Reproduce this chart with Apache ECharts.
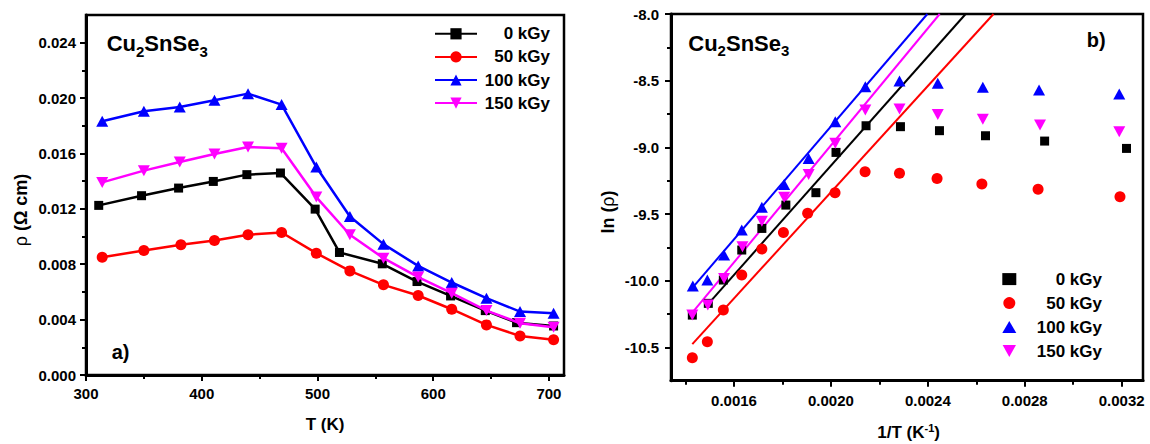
<!DOCTYPE html>
<html><head><meta charset="utf-8">
<script src="https://cdn.jsdelivr.net/npm/echarts@6/dist/echarts.min.js"></script>
<style>html,body{margin:0;padding:0;background:#fff}#c{width:1150px;height:444px}</style>
</head><body><div id="c"></div>
<script>
// ---------- data ----------
const seriesNames = ['0 kGy', '50 kGy', '100 kGy', '150 kGy'];
const colors = ['#000000', '#ff0000', '#0000ff', '#ff00ff'];

// panel a) : T (K) vs rho (Ohm cm)
const T_0   = [311, 348, 380, 410, 439, 468, 498, 519, 556, 586, 615, 645, 672, 704];
const rho_0 = [0.01225, 0.01295, 0.01350, 0.01398, 0.01447, 0.01459, 0.01198, 0.00885, 0.00803, 0.00675, 0.00571, 0.00465, 0.00378, 0.00354];
const T_50   = [314, 350, 382, 411, 440, 469, 499, 528, 557, 587, 616, 646, 675, 704];
const rho_50 = [0.00851, 0.00899, 0.00940, 0.00972, 0.01013, 0.01029, 0.00880, 0.00752, 0.00651, 0.00574, 0.00475, 0.00362, 0.00282, 0.00255];
const T_100   = [314, 350, 381, 411, 440, 469, 499, 528, 557, 587, 616, 646, 675, 704];
const rho_100 = [0.01832, 0.01905, 0.01936, 0.01984, 0.02032, 0.01953, 0.01502, 0.01145, 0.00945, 0.00788, 0.00668, 0.00555, 0.00458, 0.00446];
const T_150   = [314, 350, 381, 411, 440, 469, 499, 528, 557, 587, 616, 646, 675, 704];
const rho_150 = [0.01391, 0.01476, 0.01538, 0.01596, 0.01647, 0.01638, 0.01285, 0.01013, 0.00844, 0.00707, 0.00591, 0.00465, 0.00374, 0.00345];

// panel b) : 1/T (1/K) vs ln(rho)
const invT_0 = [0.001428, 0.001494, 0.001556, 0.001632, 0.001715, 0.001814, 0.001938, 0.002021, 0.002145, 0.002287, 0.002448, 0.002638, 0.002882, 0.003220];
const lnr_0  = [-10.258, -10.170, -9.995, -9.770, -9.608, -9.433, -9.340, -9.038, -8.838, -8.845, -8.875, -8.913, -8.953, -9.008];
const invT_50 = [0.001428, 0.001490, 0.001556, 0.001632, 0.001715, 0.001804, 0.001904, 0.002017, 0.002141, 0.002283, 0.002438, 0.002623, 0.002855, 0.003193];
const lnr_50  = [-10.578, -10.458, -10.220, -9.958, -9.763, -9.638, -9.495, -9.340, -9.183, -9.195, -9.233, -9.275, -9.315, -9.370];
const invT_100 = [0.001430, 0.001490, 0.001559, 0.001632, 0.001715, 0.001807, 0.001908, 0.002018, 0.002142, 0.002283, 0.002441, 0.002627, 0.002859, 0.003190];
const lnr_100  = [-10.040, -9.995, -9.808, -9.620, -9.450, -9.278, -9.083, -8.808, -8.545, -8.503, -8.520, -8.550, -8.570, -8.600];
const invT_150 = [0.001428, 0.001492, 0.001559, 0.001635, 0.001715, 0.001807, 0.001908, 0.002018, 0.002142, 0.002283, 0.002441, 0.002627, 0.002863, 0.003190];
const lnr_150  = [-10.258, -10.183, -9.983, -9.745, -9.555, -9.375, -9.203, -8.970, -8.720, -8.713, -8.753, -8.790, -8.833, -8.883];

// linear fits (end points)
const fitX_0 = [0.001483, 0.002556];   const fitY_0 = [-10.196, -8.0];
const fitX_50 = [0.001428, 0.002671];  const fitY_50 = [-10.476, -8.0];
const fitX_100 = [0.001430, 0.002398]; const fitY_100 = [-10.050, -8.0];
const fitX_150 = [0.001428, 0.002449]; const fitY_150 = [-10.240, -8.0];

// ticks
const aXTicks = [300, 400, 500, 600, 700];
const aXLabels = ['300', '400', '500', '600', '700'];
const aXMinor = [350, 450, 550, 650];
const aYTicks = [0, 0.004, 0.008, 0.012, 0.016, 0.020, 0.024];
const aYLabels = ['0.000', '0.004', '0.008', '0.012', '0.016', '0.020', '0.024'];
const aYMinor = [0.002, 0.006, 0.010, 0.014, 0.018, 0.022];
const bXTicks = [0.0016, 0.0020, 0.0024, 0.0028, 0.0032];
const bXLabels = ['0.0016', '0.0020', '0.0024', '0.0028', '0.0032'];
const bXMinor = [0.0014, 0.0018, 0.0022, 0.0026, 0.0030];
const bYTicks = [-10.5, -10.0, -9.5, -9.0, -8.5, -8.0];
const bYLabels = ['-10.5', '-10.0', '-9.5', '-9.0', '-8.5', '-8.0'];
const bYMinor = [-10.25, -9.75, -9.25, -8.75, -8.25];

// ---------- build ----------
const FONT = "'Liberation Sans', Arial, sans-serif";
const symbols = ['rect', 'circle', 'triangle', 'path://M0,0L10,0L5,9Z'];
const symSizes = [9, 11, [12, 11], [12, 11]];

function zip(xs, ys) { return xs.map((x, i) => [x, ys[i]]); }
function lookup(ticks, labels) {
  return v => { for (let i = 0; i < ticks.length; i++) if (Math.abs(ticks[i] - v) < 1e-9) return labels[i]; return ''; };
}
function majorAxis(gi, min, max, ticks, labels, margin) {
  return {
    type: 'value', gridIndex: gi, min: min, max: max,
    axisLine: { show: true, onZero: false, lineStyle: { color: '#000', width: 3 } },
    axisTick: { show: true, customValues: ticks, length: 6, lineStyle: { color: '#000', width: 2 } },
    axisLabel: { show: true, customValues: ticks, formatter: lookup(ticks, labels), color: '#000',
      fontFamily: FONT, fontWeight: 'bold', fontSize: 15, margin: margin },
    splitLine: { show: false }
  };
}
function minorAxis(gi, min, max, ticks) {
  return {
    type: 'value', gridIndex: gi, min: min, max: max,
    axisLine: { show: false, onZero: false },
    axisTick: { show: true, customValues: ticks, length: 4, lineStyle: { color: '#000', width: 2 } },
    axisLabel: { show: false },
    splitLine: { show: false }
  };
}

const aData = [zip(T_0, rho_0), zip(T_50, rho_50), zip(T_100, rho_100), zip(T_150, rho_150)];
const bData = [zip(invT_0, lnr_0), zip(invT_50, lnr_50), zip(invT_100, lnr_100), zip(invT_150, lnr_150)];
const fits = [zip(fitX_0, fitY_0), zip(fitX_50, fitY_50), zip(fitX_100, fitY_100), zip(fitX_150, fitY_150)];

const series = [];
seriesNames.forEach((n, i) => {
  series.push({
    name: n, type: 'line', xAxisIndex: 0, yAxisIndex: 0, data: aData[i],
    symbol: symbols[i], symbolSize: symSizes[i], showAllSymbol: true,
    lineStyle: { color: colors[i], width: 2.5 }, itemStyle: { color: colors[i] }, z: 3 + i
  });
});
seriesNames.forEach((n, i) => {
  series.push({
    name: 'fit' + i, type: 'line', xAxisIndex: 2, yAxisIndex: 2, data: fits[i],
    symbol: 'none', lineStyle: { color: colors[i], width: 2 }, z: 2
  });
});
seriesNames.forEach((n, i) => {
  series.push({
    name: 'b:' + n, type: 'scatter', xAxisIndex: 2, yAxisIndex: 2, data: bData[i],
    symbol: symbols[i], symbolSize: symSizes[i], itemStyle: { color: colors[i], opacity: 1 }, z: 3 + i
  });
});

const chart = echarts.init(document.getElementById('c'), null, { renderer: 'svg' });
chart.setOption({
  animation: false,
  backgroundColor: '#ffffff',
  grid: [
    { left: 86, top: 15, width: 478, height: 360, show: true, borderColor: '#000', borderWidth: 2.5, backgroundColor: 'transparent' },
    { left: 86, top: 15, width: 478, height: 360, show: false },
    { left: 671, top: 14, width: 472, height: 366.7, show: true, borderColor: '#000', borderWidth: 2.5, backgroundColor: 'transparent' },
    { left: 671, top: 14, width: 472, height: 366.7, show: false }
  ],
  xAxis: [
    majorAxis(0, 300, 713, aXTicks, aXLabels, 11),
    minorAxis(1, 300, 713, aXMinor),
    majorAxis(2, 0.00134, 0.003288, bXTicks, bXLabels, 12),
    minorAxis(3, 0.00134, 0.003288, bXMinor)
  ],
  yAxis: [
    majorAxis(0, 0, 0.026, aYTicks, aYLabels, 10),
    minorAxis(1, 0, 0.026, aYMinor),
    majorAxis(2, -10.75, -8.0, bYTicks, bYLabels, 12),
    minorAxis(3, -10.75, -8.0, bYMinor)
  ],
  legend: [
    {
      left: 429, top: 20.3, padding: 5, orient: 'vertical', itemWidth: 42, itemHeight: 14, itemGap: 6.1,
      data: seriesNames, selectedMode: false,
      formatter: n => '{a|' + n + '}',
      textStyle: { rich: { a: { width: 68, align: 'right', fontSize: 17, fontWeight: 'bold', fontFamily: FONT, color: '#000', lineHeight: 14 } } }
    },
    {
      left: 997.3, top: 265.6, padding: 5, orient: 'vertical', itemWidth: 14, itemHeight: 12, itemGap: 7,
      data: seriesNames.map(n => 'b:' + n), selectedMode: false,
      formatter: n => '{a|' + n.slice(2) + '}',
      textStyle: { rich: { a: { width: 80.7, align: 'right', fontSize: 17, fontWeight: 'bold', fontFamily: FONT, color: '#000', lineHeight: 12 } } }
    }
  ],
  graphic: [
    { type: 'text', x: 106.7, y: 28.7, z: 100, style: { text: '{m|Cu}{s|2}{m|SnSe}{s|3}', verticalAlign: 'top', align: 'left',
      rich: { m: { fontSize: 22, fontWeight: 'bold', fontFamily: FONT, fill: '#000', lineHeight: 30 },
              s: { fontSize: 15, fontWeight: 'bold', fontFamily: FONT, fill: '#000', lineHeight: 15, verticalAlign: 'bottom' } } } },
    { type: 'text', x: 688.3, y: 28, z: 100, style: { text: '{m|Cu}{s|2}{m|SnSe}{s|3}', verticalAlign: 'top', align: 'left',
      rich: { m: { fontSize: 22, fontWeight: 'bold', fontFamily: FONT, fill: '#000', lineHeight: 30 },
              s: { fontSize: 15, fontWeight: 'bold', fontFamily: FONT, fill: '#000', lineHeight: 15, verticalAlign: 'bottom' } } } },
    { type: 'text', x: 111.7, y: 351.7, z: 100, style: { text: 'a)', fontSize: 20, fontWeight: 'bold', fontFamily: FONT, fill: '#000', verticalAlign: 'middle', align: 'left' } },
    { type: 'text', x: 1086.7, y: 40, z: 100, style: { text: 'b)', fontSize: 20, fontWeight: 'bold', fontFamily: FONT, fill: '#000', verticalAlign: 'middle', align: 'left' } },
    { type: 'text', x: 325, y: 424, z: 100, style: { text: 'T (K)', fontSize: 17, fontWeight: 'bold', fontFamily: FONT, fill: '#000', verticalAlign: 'middle', align: 'center' } },
    { type: 'text', x: 21, y: 210, rotation: Math.PI / 2, z: 100, style: { text: '{r|ρ}{b| (Ω cm)}', verticalAlign: 'middle', align: 'center',
      rich: { r: { fontSize: 18, fontWeight: 'normal', fontFamily: FONT, fill: '#000', lineHeight: 20 },
              b: { fontSize: 18, fontWeight: 'bold', fontFamily: FONT, fill: '#000', lineHeight: 20 } } } },
    { type: 'text', x: 908.6, y: 432, z: 100, style: { text: '{b|1/T (K}{p|-1}{b|)}', verticalAlign: 'middle', align: 'center',
      rich: { b: { fontSize: 17, fontWeight: 'bold', fontFamily: FONT, fill: '#000', lineHeight: 20 },
              p: { fontSize: 11, fontWeight: 'bold', fontFamily: FONT, fill: '#000', lineHeight: 11, verticalAlign: 'top' } } } },
    { type: 'text', x: 608, y: 212, rotation: Math.PI / 2, z: 100, style: { text: '{b|ln (}{r|ρ}{b|)}', verticalAlign: 'middle', align: 'center',
      rich: { r: { fontSize: 18, fontWeight: 'normal', fontFamily: FONT, fill: '#000', lineHeight: 20 },
              b: { fontSize: 18, fontWeight: 'bold', fontFamily: FONT, fill: '#000', lineHeight: 20 } } } }
  ],
  series: series
});
</script>
</body></html>
